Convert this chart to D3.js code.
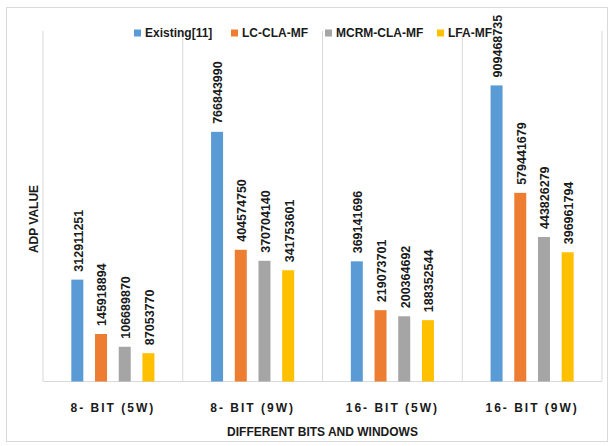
<!DOCTYPE html>
<html><head><meta charset="utf-8">
<script src="https://cdn.jsdelivr.net/npm/d3@7"></script>
<style>
html,body{margin:0;padding:0;background:#fff;}
text{font-family:"Liberation Sans",Arial,sans-serif;}
</style></head>
<body><svg id="c" width="614" height="446"></svg>
<script>
const categories = ["8- BIT (5W)", "8- BIT (9W)", "16- BIT (5W)", "16- BIT (9W)"];
const seriesNames = ["Existing[11]", "LC-CLA-MF", "MCRM-CLA-MF", "LFA-MF"];
const existing = [312911251, 766843990, 369141696, 909468735];
const lcClaMf = [145918894, 404574750, 219073701, 579441679];
const mcrmClaMf = [106689870, 370704140, 200364692, 443826279];
const lfaMf = [87053770, 341753601, 188352544, 396961794];
const colors = ["#5B9BD5", "#ED7D31", "#A5A5A5", "#FFC000"];
const seriesValues = [existing, lcClaMf, mcrmClaMf, lfaMf];

const svg = d3.select("#c");
svg.append("rect").attr("x",6.5).attr("y",7.5).attr("width",601).attr("height",434)
  .attr("fill","#fff").attr("stroke","#d9d9d9");

const pL=43, pR=602, pT=31, pB=381.5;
const x0 = d3.scaleBand().domain(categories).range([pL,pR]).paddingInner(0).paddingOuter(0);
const x1 = d3.scaleBand().domain(seriesNames).range([0,x0.bandwidth()]).paddingInner(0.494).paddingOuter(1.195);
const y = d3.scaleLinear().domain([0,1.0766e9]).range([pB,pT]);

// vertical gridlines
const bounds = categories.map(c=>x0(c)).concat([pR]);
svg.append("g").selectAll("line").data(bounds).join("line")
  .attr("x1",d=>d).attr("x2",d=>d).attr("y1",pT).attr("y2",pB)
  .attr("stroke","#d9d9d9").attr("stroke-width",1);

// x axis
const xAxis = svg.append("g").attr("transform",`translate(0,${pB})`)
  .call(d3.axisBottom(x0).tickSize(0).tickPadding(0));
xAxis.select(".domain").attr("stroke","#d9d9d9").attr("d",`M${pL},0H${pR}`);
xAxis.selectAll("text").attr("font-size","12px").attr("font-weight","bold")
  .attr("fill","#1a1a1a").attr("letter-spacing","2px").attr("dy",0).attr("y",30);

// bars
const data = [];
categories.forEach((c,i)=>seriesNames.forEach((s,j)=>data.push({c,s,j,v:seriesValues[j][i]})));
const g = svg.append("g");
g.selectAll("rect").data(data).join("rect")
  .attr("x",d=>x0(d.c)+x1(d.s)).attr("width",x1.bandwidth())
  .attr("y",d=>y(d.v)).attr("height",d=>pB-y(d.v))
  .attr("fill",d=>colors[d.j]);

g.selectAll("text").data(data).join("text")
  .attr("transform",d=>`translate(${x0(d.c)+x1(d.s)+x1.bandwidth()/2+1},${y(d.v)-8}) rotate(-90)`)
  .attr("dy","0.35em").attr("font-size","12.5px").attr("font-weight","bold")
  .attr("fill","#1a1a1a").text(d=>d.v);

// y label
svg.append("text").attr("transform","translate(34,219) rotate(-90)")
  .attr("text-anchor","middle").attr("dy","0.35em").attr("font-size","12px")
  .attr("font-weight","bold").attr("fill","#1a1a1a").text("ADP VALUE");

// x title
svg.append("text").attr("x",322.5).attr("y",432).attr("dy","0.35em").attr("text-anchor","middle")
  .attr("font-size","12px").attr("font-weight","bold").attr("fill","#1a1a1a")
  .text("DIFFERENT BITS AND WINDOWS");

// legend
const legX = [134, 231, 325, 437];
const leg = svg.append("g").selectAll("g").data(seriesNames).join("g")
  .attr("transform",(d,i)=>`translate(${legX[i]},33)`);
leg.append("rect").attr("x",0).attr("y",-3.5).attr("width",7).attr("height",7)
  .attr("fill",(d,i)=>colors[i]);
leg.append("text").attr("x",11).attr("dy","0.35em").attr("font-size","12px")
  .attr("font-weight","bold").attr("fill","#1a1a1a").text(d=>d);
</script></body></html>
